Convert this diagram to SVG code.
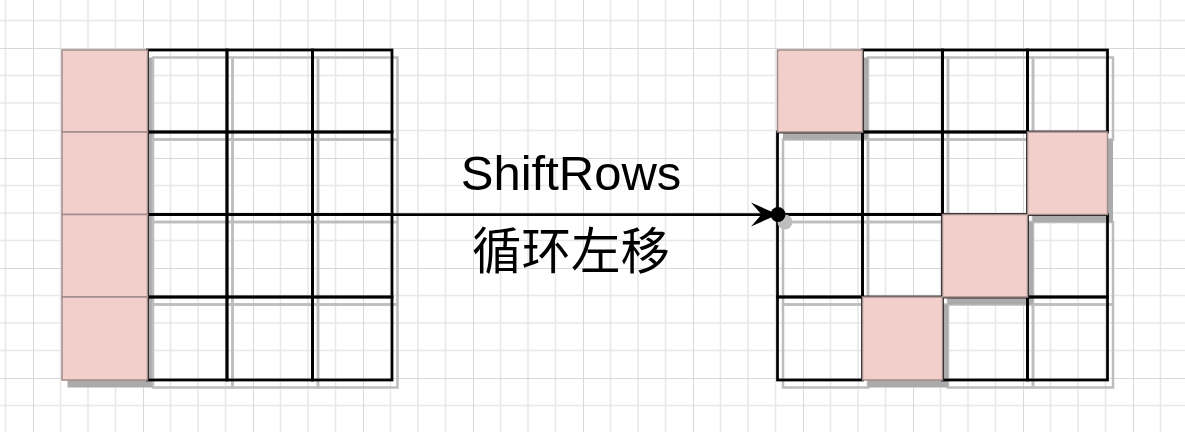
<svg xmlns="http://www.w3.org/2000/svg" width="1185" height="432" viewBox="0 0 1185 432">
<style>
.cell{fill:none;stroke:#000;stroke-width:2.75}
.sh{fill:none;stroke:#bdbdbd;stroke-width:2.5}
.psh{fill:#ababab;stroke:none}
.pink{fill:#f3cfcc;stroke:#a08c8a;stroke-width:1.5}
.lbl{font-family:"Liberation Sans",Arial,sans-serif;font-size:49px;fill:#000;text-anchor:middle}
.cjk{font-family:"Noto Sans CJK SC","Noto Sans CJK JP",sans-serif;font-size:49.5px;fill:#000;text-anchor:middle}
.edge{stroke:#000;stroke-width:2.75;fill:none}
</style>
<defs>
<pattern id="grid" patternUnits="userSpaceOnUse" x="33" y="48" width="110" height="110">
<rect width="110" height="110" fill="#fff"/>
<g stroke="#e8e8e8" stroke-width="1.5">
<line x1="27.5" y1="0" x2="27.5" y2="110"/><line x1="55" y1="0" x2="55" y2="110"/><line x1="82.5" y1="0" x2="82.5" y2="110"/>
<line x1="0" y1="27.5" x2="110" y2="27.5"/><line x1="0" y1="55" x2="110" y2="55"/><line x1="0" y1="82.5" x2="110" y2="82.5"/>
</g>
<g stroke="#d8d8d8" stroke-width="2">
<line x1="0" y1="0" x2="0" y2="110"/><line x1="0" y1="0" x2="110" y2="0"/>
</g>
</pattern>
</defs>
<rect width="1185" height="432" fill="url(#grid)"/>

<g id="matrix-left">
<g id="left-shadows">
<rect class="psh" x="67.5" y="57.5" width="85.5" height="330"/>
<rect class="sh" x="153" y="57.5" width="79.5" height="82"/>
<rect class="sh" x="232.5" y="57.5" width="85.5" height="82"/>
<rect class="sh" x="318" y="57.5" width="79.5" height="82"/>
<rect class="sh" x="153" y="139.5" width="79.5" height="82.5"/>
<rect class="sh" x="232.5" y="139.5" width="85.5" height="82.5"/>
<rect class="sh" x="318" y="139.5" width="79.5" height="82.5"/>
<rect class="sh" x="153" y="222" width="79.5" height="82.5"/>
<rect class="sh" x="232.5" y="222" width="85.5" height="82.5"/>
<rect class="sh" x="318" y="222" width="79.5" height="82.5"/>
<rect class="sh" x="153" y="304.5" width="79.5" height="83"/>
<rect class="sh" x="232.5" y="304.5" width="85.5" height="83"/>
<rect class="sh" x="318" y="304.5" width="79.5" height="83"/>
</g>
<g id="left-cells">
<rect class="cell" x="147.5" y="50" width="79.5" height="82"/>
<rect class="cell" x="227" y="50" width="85.5" height="82"/>
<rect class="cell" x="312.5" y="50" width="79.5" height="82"/>
<rect class="cell" x="147.5" y="132" width="79.5" height="82.5"/>
<rect class="cell" x="227" y="132" width="85.5" height="82.5"/>
<rect class="cell" x="312.5" y="132" width="79.5" height="82.5"/>
<rect class="cell" x="147.5" y="214.5" width="79.5" height="82.5"/>
<rect class="cell" x="227" y="214.5" width="85.5" height="82.5"/>
<rect class="cell" x="312.5" y="214.5" width="79.5" height="82.5"/>
<rect class="cell" x="147.5" y="297" width="79.5" height="83"/>
<rect class="cell" x="227" y="297" width="85.5" height="83"/>
<rect class="cell" x="312.5" y="297" width="79.5" height="83"/>
</g>
<g id="left-pink">
<rect class="pink" x="62" y="50" width="85.5" height="82"/>
<rect class="pink" x="62" y="132" width="85.5" height="82.5"/>
<rect class="pink" x="62" y="214.5" width="85.5" height="82.5"/>
<rect class="pink" x="62" y="297" width="85.5" height="83"/>
</g>
</g>

<g id="matrix-right">
<g id="right-shadows">
<rect class="sh" x="868" y="57.5" width="80" height="82"/>
<rect class="sh" x="948" y="57.5" width="85" height="82"/>
<rect class="sh" x="1033" y="57.5" width="80" height="82"/>
<rect class="sh" x="783" y="139.5" width="85" height="82.5"/>
<rect class="sh" x="868" y="139.5" width="80" height="82.5"/>
<rect class="sh" x="948" y="139.5" width="85" height="82.5"/>
<rect class="sh" x="783" y="222" width="85" height="82.5"/>
<rect class="sh" x="868" y="222" width="80" height="82.5"/>
<rect class="sh" x="1033" y="222" width="80" height="82.5"/>
<rect class="sh" x="783" y="304.5" width="85" height="83"/>
<rect class="sh" x="948" y="304.5" width="85" height="83"/>
<rect class="sh" x="1033" y="304.5" width="80" height="83"/>
<rect class="psh" x="783" y="57.5" width="85" height="82"/>
<rect class="psh" x="1033" y="139.5" width="80" height="82.5"/>
<rect class="psh" x="948" y="222" width="85" height="82.5"/>
<rect class="psh" x="868" y="304.5" width="80" height="83"/>
</g>
<g id="right-cells">
<rect class="cell" x="862.5" y="50" width="80" height="82"/>
<rect class="cell" x="942.5" y="50" width="85" height="82"/>
<rect class="cell" x="1027.5" y="50" width="80" height="82"/>
<rect class="cell" x="777.5" y="132" width="85" height="82.5"/>
<rect class="cell" x="862.5" y="132" width="80" height="82.5"/>
<rect class="cell" x="942.5" y="132" width="85" height="82.5"/>
<rect class="cell" x="777.5" y="214.5" width="85" height="82.5"/>
<rect class="cell" x="862.5" y="214.5" width="80" height="82.5"/>
<rect class="cell" x="1027.5" y="214.5" width="80" height="82.5"/>
<rect class="cell" x="777.5" y="297" width="85" height="83"/>
<rect class="cell" x="942.5" y="297" width="85" height="83"/>
<rect class="cell" x="1027.5" y="297" width="80" height="83"/>
</g>
<g id="right-pink">
<rect class="pink" x="777.5" y="50" width="85" height="82"/>
<rect class="pink" x="1027.5" y="132" width="80" height="82.5"/>
<rect class="pink" x="942.5" y="214.5" width="85" height="82.5"/>
<rect class="pink" x="862.5" y="297" width="80" height="83"/>
</g>
</g>

<g id="connectors">
<circle cx="785" cy="222" r="7.5" fill="#bdbdbd"/>
<line class="edge" x1="392" y1="214.5" x2="763" y2="214.5"/>
<path d="M778,214.5 L751,202.5 L761.5,214.5 L751,226.5 Z" fill="#000"/>
<circle cx="778" cy="214.5" r="7.5" fill="#000"/>
</g>

<g id="labels">
<text class="lbl" x="571" y="190">ShiftRows</text>
<text class="cjk" x="571" y="269">循环左移</text>
</g>
</svg>
